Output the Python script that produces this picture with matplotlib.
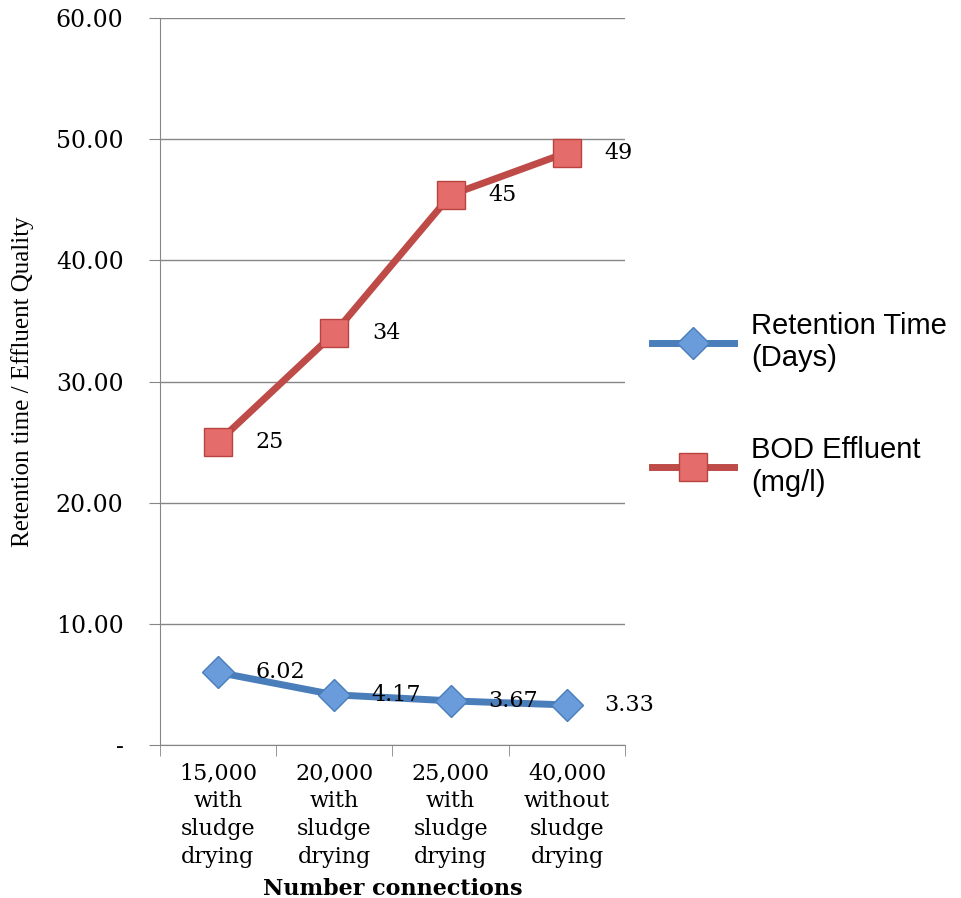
import matplotlib
matplotlib.use('Agg')
import matplotlib.pyplot as plt
import numpy as np

# dados
categorias = ['15,000\nwith\nsludge\ndrying', '20,000\nwith\nsludge\ndrying',
              '25,000\nwith\nsludge\ndrying', '40,000\nwithout\nsludge\ndrying']
retention_time = [6.02, 4.17, 3.67, 3.33]
bod_effluent = [25.0, 34.0, 45.4, 48.9]
retention_labels = ['6.02', '4.17', '3.67', '3.33']
bod_labels = ['25', '34', '45', '49']
y_ticks = [0, 10, 20, 30, 40, 50, 60]
y_tick_labels = ['-', '10.00', '20.00', '30.00', '40.00', '50.00', '60.00']

serif = 'DejaVu Serif'
cinza = '#868686'

fig = plt.figure(figsize=(9.62, 8.98), dpi=100)
ax = fig.add_axes([0.166, 0.170, 0.484, 0.810])

x = np.arange(len(categorias))

ax.plot(x, retention_time, color='#4A7EBB', lw=5, marker='D', ms=16,
        mfc='#6A9BDB', mec='#4A7EBB', mew=1, label='Retention Time\n(Days)')
ax.plot(x, bod_effluent, color='#BE4B48', lw=5, marker='s', ms=20,
        mfc='#E46C6A', mec='#B84440', mew=1, label='BOD Effluent\n(mg/l)')

# rotulos dos pontos
for xi, v, t in zip(x, retention_time, retention_labels):
    ax.annotate(t, (xi, v), xytext=(27, 0), textcoords='offset points',
                ha='left', va='center', fontsize=16, family=serif)
for xi, v, t in zip(x, bod_effluent, bod_labels):
    ax.annotate(t, (xi, v), xytext=(27, 0), textcoords='offset points',
                ha='left', va='center', fontsize=16, family=serif)

ax.set_ylim(0, 60)
ax.set_xlim(-0.5, len(categorias) - 0.5)
ax.set_yticks(y_ticks)
ax.set_yticklabels(y_tick_labels, family=serif, fontsize=17)
ax.set_xticks(x)
ax.set_xticklabels(categorias, family=serif, fontsize=16, linespacing=1.35)
ax.set_xticks(np.arange(-0.5, len(categorias)), minor=True)

ax.tick_params(axis='y', length=8, color=cinza, pad=18)
ax.tick_params(axis='x', which='major', length=0, pad=12)
ax.tick_params(axis='x', which='minor', length=8, color=cinza)

ax.yaxis.grid(True, color=cinza, lw=1)
ax.set_axisbelow(True)
for s in ['top', 'right']:
    ax.spines[s].set_visible(False)
for s in ['left', 'bottom']:
    ax.spines[s].set_color(cinza)

ax.set_xlabel('Number connections', family=serif, fontsize=16, fontweight='bold', labelpad=7)
ax.set_ylabel('Retention time / Effluent Quality', family='Liberation Serif', fontsize=18)
ax.yaxis.set_label_coords(-0.27, 0.5)

fig.legend(loc='center left', bbox_to_anchor=(0.678, 0.55), frameon=False,
           prop={'family': 'Liberation Sans', 'size': 21}, handlelength=2.8,
           labelspacing=2.2, handletextpad=0.6, borderaxespad=0, borderpad=0)

plt.savefig('out.png', dpi=100)
